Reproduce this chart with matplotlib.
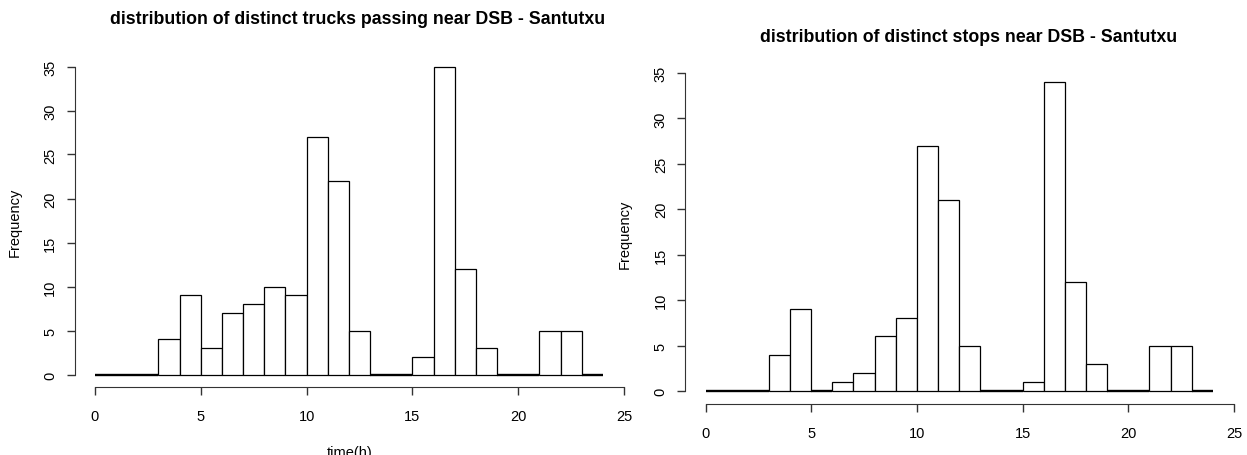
import matplotlib
matplotlib.use("Agg")
import matplotlib.pyplot as plt

plt.rcParams['font.family'] = ['Liberation Sans', 'DejaVu Sans']

# hourly bins 0..24
bin_edges = list(range(0, 24))
trucks_counts = [0, 0, 0, 4, 9, 3, 7, 8, 10, 9, 27, 22, 5, 0, 0, 2, 35, 12, 3, 0, 0, 5, 5, 0]
stops_counts = [0, 0, 0, 4, 9, 0, 1, 2, 6, 8, 27, 21, 5, 0, 0, 1, 34, 12, 3, 0, 0, 5, 5, 0]
x_ticks = [0, 5, 10, 15, 20, 25]
y_ticks = [0, 5, 10, 15, 20, 25, 30, 35]

titles = ['distribution of distinct trucks passing near DSB - Santutxu',
          'distribution of distinct stops near DSB - Santutxu']

W, H = 1247, 456
XLIM = (-0.96, 25.0)
YLIM = (-1.4, 36.4)


def make_axes(fig, x0_px, x25_px, y0_px, y35_px):
    # place axes so data (0,0) and (25,35) land on given pixels
    sx = (x25_px - x0_px) / 25.0
    sy = (y0_px - y35_px) / 35.0
    left = x0_px + XLIM[0] * sx
    right = x0_px + XLIM[1] * sx
    bottom = y0_px - YLIM[0] * sy
    top = y0_px - YLIM[1] * sy
    ax = fig.add_axes([left / W, 1 - bottom / H, (right - left) / W, (bottom - top) / H])
    ax.set_xlim(*XLIM)
    ax.set_ylim(*YLIM)
    return ax


def draw_hist(ax, counts):
    # empty bins collapse to a doubled (thicker) line on the baseline, like R
    widths = [1.7 if c == 0 else 0.9 for c in counts]
    ax.bar(bin_edges, counts, width=1, align='edge', facecolor='white',
           edgecolor='black', linewidth=widths)
    for s in ['top', 'right']:
        ax.spines[s].set_visible(False)
    ax.spines['left'].set_bounds(0, 35)
    ax.spines['bottom'].set_bounds(0, 25)
    ax.spines['left'].set_color('#333333')
    ax.spines['bottom'].set_color('#333333')
    ax.set_xticks(x_ticks)
    ax.set_yticks(y_ticks)
    ax.set_yticklabels([str(v) for v in y_ticks], rotation=90, va='center')
    ax.tick_params(axis='x', length=6, width=1, pad=10, labelsize=10.5, color='#333333')
    ax.tick_params(axis='y', length=6, width=1, pad=6.5, labelsize=10.5, color='#333333')


fig = plt.figure(figsize=(W / 100, H / 100), dpi=100)

ax1 = make_axes(fig, 95, 624, 375.5, 67.5)
draw_hist(ax1, trucks_counts)
fig.text(358 / W, 1 - 20 / H, titles[0], ha='center', va='center',
         fontsize=12.8, fontweight='bold')
fig.text(15 / W, 1 - 222 / H, 'Frequency', rotation=90, ha='center', va='center', fontsize=10.5)
fig.text(350 / W, 1 - 453 / H, 'time(h)', ha='center', va='center', fontsize=10.5)

ax2 = make_axes(fig, 705.5, 1234, 392, 74)
draw_hist(ax2, stops_counts)
fig.text(969 / W, 1 - 38 / H, titles[1], ha='center', va='center',
         fontsize=12.8, fontweight='bold')
fig.text(625 / W, 1 - 234 / H, 'Frequency', rotation=90, ha='center', va='center', fontsize=10.5)

fig.savefig('out.png', dpi=100)
